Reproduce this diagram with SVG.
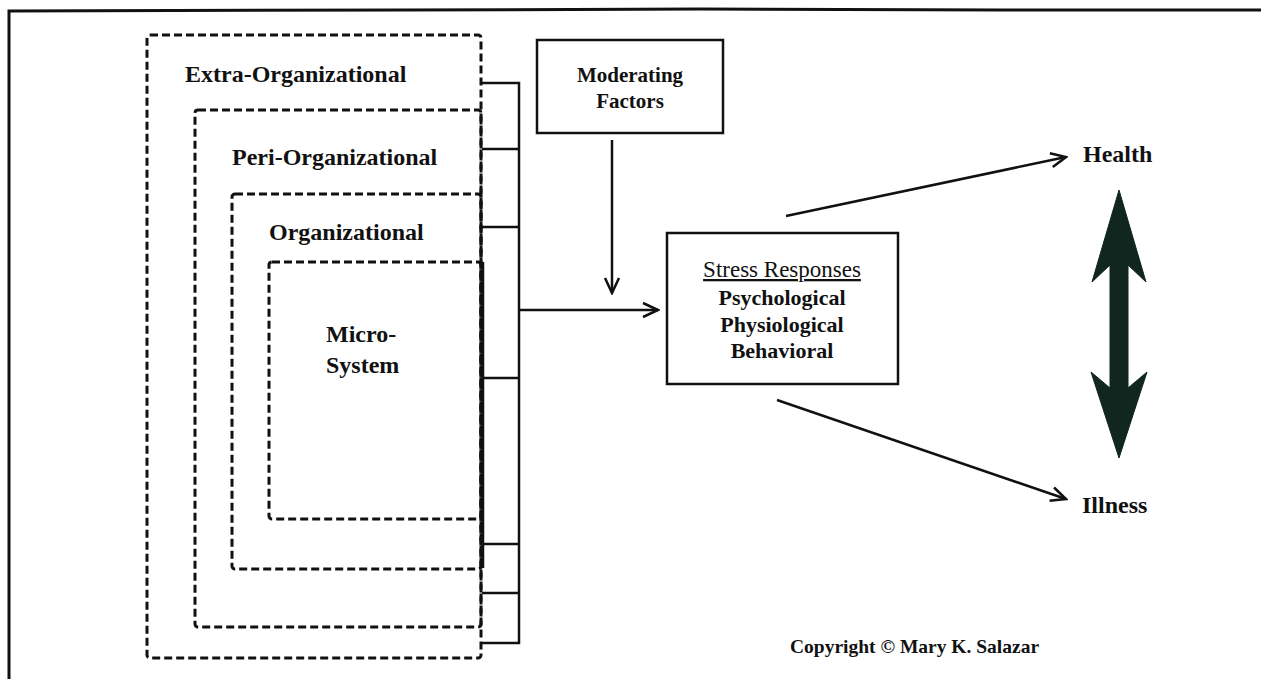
<svg xmlns="http://www.w3.org/2000/svg" width="1261" height="679" viewBox="0 0 1261 679">
<style>
.t{font-family:"Liberation Serif","Times New Roman",serif;font-weight:bold;fill:#111;}
.dash{fill:none;stroke:#111;stroke-width:3;stroke-dasharray:8 4;stroke-linejoin:round;}
.ln{fill:none;stroke:#111;stroke-width:2.5;}
.box{fill:none;stroke:#111;stroke-width:2.5;}
</style>
<defs>
<marker id="ah" viewBox="0 0 20 20" refX="18" refY="10" markerWidth="20" markerHeight="20" markerUnits="userSpaceOnUse" orient="auto">
<path d="M3,3 L18,10 L3,17" fill="none" stroke="#111" stroke-width="2.5"/>
</marker>
</defs>
<rect width="1261" height="679" fill="#fff"/>
<g id="frame">
<path d="M9,679 L9,11 L400,10 L700,9 L1000,10 L1261,10" fill="none" stroke="#111" stroke-width="3"/>
</g>
<g id="extra-organizational">
<rect class="dash" x="147" y="35" width="334" height="623" rx="3"/>
<text class="t" x="185" y="82" font-size="24">Extra-Organizational</text>
</g>
<g id="peri-organizational">
<rect class="dash" x="195" y="110" width="286" height="517" rx="3"/>
<text class="t" x="232" y="165" font-size="24">Peri-Organizational</text>
</g>
<g id="organizational">
<rect class="dash" x="232" y="194" width="249" height="375" rx="3"/>
<text class="t" x="269" y="240" font-size="24">Organizational</text>
</g>
<g id="micro-system">
<rect class="dash" x="269" y="262" width="212" height="257" rx="3"/>
<text class="t" x="326" y="342" font-size="24">Micro-</text>
<text class="t" x="326" y="373" font-size="24">System</text>
</g>
<g id="moderating-factors">
<rect class="box" x="537" y="40" width="186" height="93"/>
<text class="t" x="630" y="82" font-size="21" text-anchor="middle">Moderating</text>
<text class="t" x="630" y="108" font-size="21" text-anchor="middle">Factors</text>
</g>
<g id="stress-responses">
<rect class="box" x="667" y="233" width="231" height="151"/>
<text class="t" x="782" y="277" font-size="23" font-weight="normal" style="font-weight:normal" text-anchor="middle" text-decoration="underline">Stress Responses</text>
<text class="t" x="782" y="305" font-size="22" text-anchor="middle">Psychological</text>
<text class="t" x="782" y="332" font-size="22" text-anchor="middle">Physiological</text>
<text class="t" x="782" y="358" font-size="22" text-anchor="middle">Behavioral</text>
</g>
<g id="health">
<text class="t" x="1083" y="162" font-size="24">Health</text>
</g>
<g id="illness">
<text class="t" x="1082" y="513" font-size="24">Illness</text>
</g>
<g id="copyright">
<text class="t" x="790" y="653" font-size="19.5">Copyright © Mary K. Salazar</text>
</g>
<g id="connectors">
<path class="ln" d="M483,262 L483,568"/>
<path class="ln" d="M482,83 L519,83 L519,643 L482,643"/>
<path class="ln" d="M482,149 L519,149 M482,227 L519,227 M482,378 L519,378 M482,544 L519,544 M482,593 L519,593"/>
<path class="ln" d="M519,310 L658,310" marker-end="url(#ah)"/>
<path class="ln" d="M612,140 L612,293" marker-end="url(#ah)"/>
<path class="ln" d="M786,216 L1066,157" marker-end="url(#ah)"/>
<path class="ln" d="M777,400 L1066,499" marker-end="url(#ah)"/>
<path d="M1119,190 L1146,282 L1128,265 L1128,388 L1147,372 L1119,458 L1091,372 L1110,388 L1110,265 L1092,282 Z" fill="#10261e" stroke="#10261e" stroke-width="1" stroke-linejoin="round"/>
</g>
</svg>
